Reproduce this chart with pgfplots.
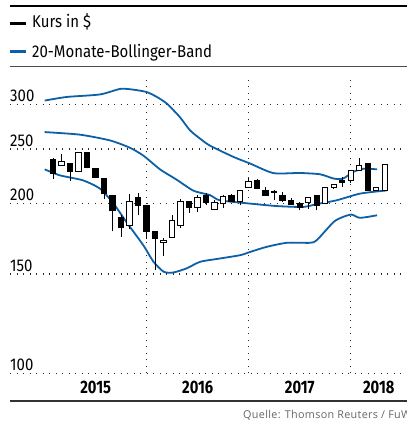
\documentclass[border=0pt]{standalone}
\usepackage{pgfplots}
\pgfplotsset{compat=1.18}
\usepackage{fontspec}
\setmainfont[FakeStretch=0.88]{Fira Sans}
\newfontfamily\srcfont[LetterSpace=3]{Open Sans}
\newfontfamily\yearfont[FakeStretch=0.82]{Fira Sans}
\definecolor{band}{HTML}{0D5FA6}
\definecolor{gridc}{HTML}{2A2A2A}

% candle: index, open, high, low, close, body fill
\newcommand\cndl[6]{%
  \pgfmathsetmacro\cxa{#1-0.32}%
  \pgfmathsetmacro\cxb{#1+0.32}%
  \addplot[black, line width=1.1pt] coordinates {(#1,#4) (#1,#3)};
  \addplot[draw=black, line width=1pt, line join=miter, fill=#6] coordinates {(\cxa,#2) (\cxb,#2) (\cxb,#5) (\cxa,#5)} -- cycle;
}

\begin{document}
\begin{tikzpicture}[x=1pt,y=1pt]
\useasboundingbox (0,0) rectangle (407,421);
% header
\draw[line width=2.4pt, black] (10,414.8) -- (407,414.8);
\draw[line width=3pt, black] (10,397.3) -- (26,397.3);
\node[anchor=base west, inner sep=0pt, font=\fontsize{17}{17}\selectfont] at (32,393) {Kurs in \$};
\draw[line width=3pt, band] (10,369.3) -- (26,369.3);
\node[anchor=base west, inner sep=0pt, font=\fontsize{17}{17}\selectfont] at (32,363) {20-Monate-Bollinger-Band};
\draw[line width=1.3pt, black!70] (10,354.2) -- (407,354.2);

\begin{axis}[
  at={(10pt,47.7pt)}, anchor=south west,
  scale only axis, width=397pt, height=293.3pt,
  xmin=-4.08, xmax=42.62,
  ymode=log, ymin=100, ymax=331.3,
  axis line style={draw=none},
  tick style={draw=none},
  /pgf/number format/assume math mode=true,
  ytick={100,150,200,250,300},
  yticklabels={100,150,200,250,300},
  ymajorgrids,
  xtick={12,24,36}, xticklabels={,,},
  xmajorgrids,
  grid style={gridc, line width=1.2pt, dash pattern=on 1.2pt off 5.3pt},
  extra x ticks={6,18,30,39.3},
  extra x tick labels={2015,2016,2017,2018},
  extra x tick style={grid=none},
  yticklabel style={anchor=base west, inner sep=0pt, yshift=2.6pt, font=\fontsize{17}{17}\selectfont},
  xticklabel style={anchor=north, inner sep=0pt, yshift=-7.5pt, font=\yearfont\bfseries\fontsize{18}{18}\selectfont},
]
% Bollinger bands
\addplot[band, line width=1.8pt, smooth, tension=0.4] coordinates {
 (0,304.6) (2.6,309.1) (6.5,312.3) (8.9,319.5) (10.4,318.5) (12,315.4) (13.2,309.1) (14.4,300.6)
 (15.9,284.7) (17.1,269.7) (18.3,260.6) (19.4,253.6) (22.2,242.0) (24.2,235.4) (26.9,226.5)
 (30.0,226.6) (32.4,225.4) (34.0,221.5) (35.1,221.5) (36.3,227.6) (37.5,230.6) (39.1,230.0)};
\addplot[band, line width=1.8pt, smooth, tension=0.4] coordinates {
 (0,267.8) (4.15,265.0) (7.7,258.8) (10.0,251.3) (11.6,243.3) (13.6,229.8) (15.5,220.6)
 (17.5,210.8) (19.45,207.0) (20.6,202.7) (24.15,200.0) (27.3,198.0) (30.4,197.3) (32.0,199.6)
 (34.35,202.7) (37.1,208.3) (40.2,211.0)};
\addplot[band, line width=1.8pt, smooth, tension=0.4] coordinates {
 (0,230.0) (1.8,224.4) (4.5,219.9) (6.5,212.6) (8.1,200.0) (9.6,185.6) (11.6,168.7) (12.8,157.7)
 (14.0,151.4) (15.1,150.9) (16.7,153.5) (18.3,157.7) (20.6,159.8) (23.0,162.0) (24.2,164.2)
 (26.1,167.6) (28.5,170.4) (31.2,170.4) (32.0,172.2) (34.0,185.6) (35.1,189.4) (36.1,191.2)
 (37.1,188.7) (39.1,190.7)};
% candles: i, open, high, low, close
\cndl{1}{239.7}{240.5}{221.4}{226.0}{black}
\cndl{2}{233.8}{245.2}{233.0}{237.0}{white}
\cndl{3}{235.4}{235.8}{219.4}{227.6}{black}
\cndl{4}{228.2}{246.8}{227.6}{246.2}{white}
\cndl{5}{246.2}{246.6}{231.0}{231.4}{black}
\cndl{6}{230.5}{230.9}{222.0}{222.4}{black}
\cndl{7}{221.4}{222.0}{204.1}{208.3}{black}
\cndl{8}{206.4}{207.0}{178.6}{194.6}{black}
\cndl{9}{188.7}{190.7}{174.6}{181.2}{black}
\cndl{10}{182.6}{208.3}{180.6}{201.4}{white}
\cndl{11}{204.7}{208.8}{190.7}{198.1}{black}
\cndl{12}{198.6}{199.0}{173.4}{178.2}{black}
\cndl{13}{178.6}{179.0}{152.5}{173.4}{black}
\cndl{14}{170.5}{173.8}{161.2}{172.0}{white}
\cndl{15}{174.0}{191.1}{173.6}{186.4}{white}
\cndl{16}{183.1}{203.5}{181.4}{201.9}{white}
\cndl{17}{201.9}{202.3}{192.5}{196.8}{black}
\cndl{18}{196.8}{206.9}{193.3}{204.9}{white}
\cndl{19}{206.9}{208.9}{199.2}{200.6}{black}
\cndl{20}{195.4}{202.7}{195.0}{200.8}{white}
\cndl{21}{200.0}{207.5}{196.6}{205.6}{white}
\cndl{22}{206.4}{208.3}{201.0}{201.4}{black}
\cndl{23}{201.4}{211.3}{198.6}{210.9}{white}
\cndl{24}{213.9}{221.9}{213.5}{219.1}{white}
\cndl{25}{220.0}{220.8}{212.1}{212.5}{black}
\cndl{26}{211.1}{213.9}{206.0}{206.4}{black}
\cndl{27}{210.5}{211.0}{202.7}{209.2}{black}
\cndl{28}{206.4}{209.7}{201.4}{202.7}{black}
\cndl{29}{202.7}{204.7}{198.8}{199.2}{black}
\cndl{30}{200.0}{201.4}{194.6}{196.6}{black}
\cndl{31}{200.8}{205.0}{196.0}{204.7}{white}
\cndl{32}{206.4}{207.5}{194.6}{198.1}{black}
\cndl{33}{200.0}{214.3}{199.6}{213.9}{white}
\cndl{34}{213.9}{216.7}{212.3}{216.3}{white}
\cndl{35}{219.5}{223.1}{213.9}{218.4}{black}
\cndl{36}{220.0}{229.4}{217.9}{229.0}{white}
\cndl{37}{229.0}{241.0}{228.6}{233.8}{white}
\cndl{38}{235.4}{235.8}{210.7}{211.1}{black}
\cndl{39}{211.1}{214.3}{210.7}{213.9}{white}
\cndl{40}{211.1}{235.0}{210.7}{234.4}{white}
\end{axis}

\draw[line width=1.3pt, black!80] (10,20) -- (407,20);
\node[anchor=base west, inner sep=0pt, font=\srcfont\fontsize{10.8}{10.8}\selectfont, text=black!60] at (243,2.5) {Quelle: Thomson Reuters / FuW};
\end{tikzpicture}
\end{document}
